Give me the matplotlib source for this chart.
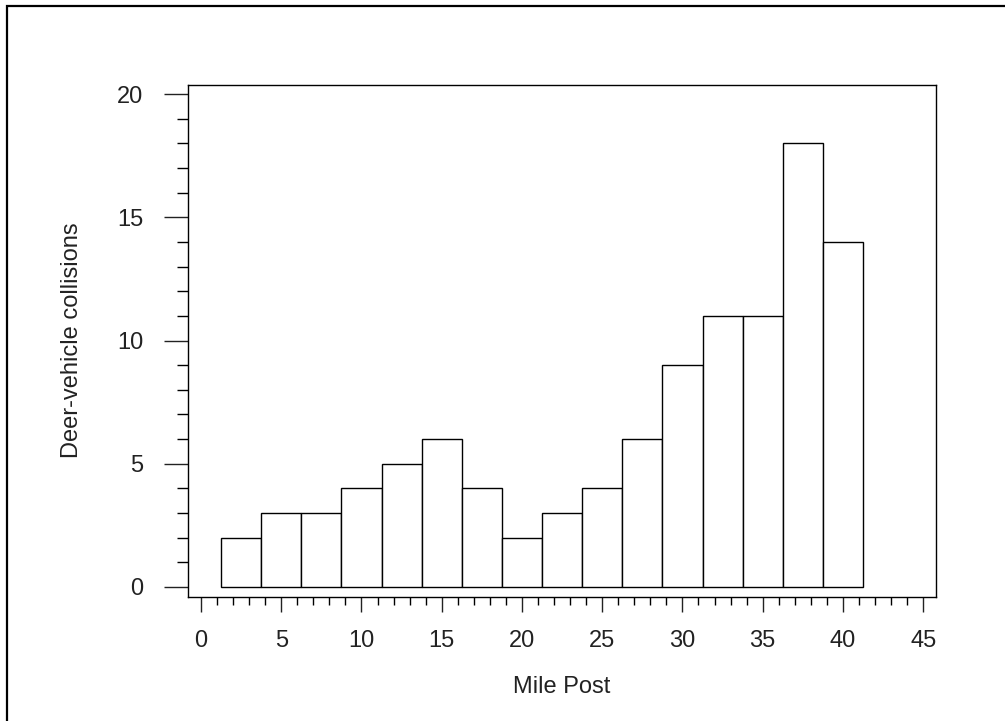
import numpy as np
import matplotlib.pyplot as plt
from matplotlib.patches import Rectangle
from matplotlib.ticker import MultipleLocator

# histogram bins (mile post) and counts
bin_left = [1.25, 3.75, 6.25, 8.75, 11.25, 13.75, 16.25, 18.75,
            21.25, 23.75, 26.25, 28.75, 31.25, 33.75, 36.25, 38.75]
bin_width = 2.5
collisions = [2, 3, 3, 4, 5, 6, 4, 2, 3, 4, 6, 9, 11, 11, 18, 14]

plt.rcParams['font.family'] = ['Liberation Sans', 'DejaVu Sans']

W, H = 1005, 721
fig = plt.figure(figsize=(W / 100, H / 100), dpi=100)
ax = fig.add_axes([188 / W, (H - 597) / H, (936 - 188) / W, (597 - 85) / H])

ax.bar(bin_left, collisions, width=bin_width, align='edge',
       facecolor='white', edgecolor='black', linewidth=1.0)

ax.set_xlim(-0.81, 45.8)
ax.set_ylim(-0.41, 20.37)
ax.xaxis.set_major_locator(MultipleLocator(5))
ax.xaxis.set_minor_locator(MultipleLocator(1))
ax.yaxis.set_major_locator(MultipleLocator(5))
ax.yaxis.set_minor_locator(MultipleLocator(1))

ax.tick_params(axis='x', which='major', length=11, width=1.0, pad=13,
               labelsize=17, colors='#222222')
ax.tick_params(axis='x', which='minor', length=6, width=1.0)
ax.tick_params(axis='y', which='major', length=17, width=1.0, pad=15,
               labelsize=17, colors='#222222')
ax.tick_params(axis='y', which='minor', length=8, width=1.0)
for s in ax.spines.values():
    s.set_linewidth(1.0)

ax.set_xlabel('Mile Post', fontsize=17, color='#222222')
ax.set_ylabel('Deer-vehicle collisions', fontsize=17, color='#222222')
ax.xaxis.set_label_coords((562 - 188) / (936 - 188), -(687 - 597) / (597 - 85))
ax.yaxis.set_label_coords(-(188 - 72) / (936 - 188), (597 - 340) / (597 - 85))
ax.xaxis.label.set_va('center')
ax.yaxis.label.set_va('center')

# outer frame (only top and left edges fall inside the picture)
fig.add_artist(Rectangle((7 / W, -0.2), 1.3, 1.2 - 6 / H, transform=fig.transFigure,
                         fill=False, edgecolor='black', linewidth=1.6))

fig.savefig('out.png', dpi=100)
